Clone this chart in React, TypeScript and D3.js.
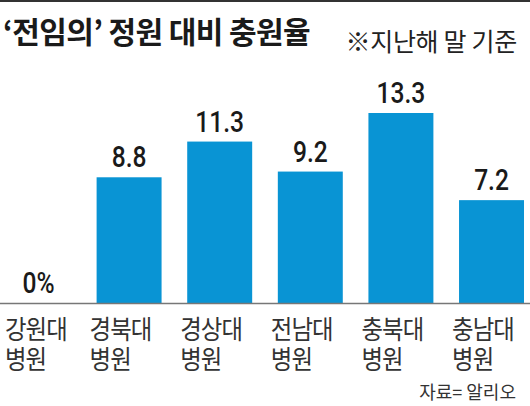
import * as d3 from "d3";
import { useEffect } from "react";

const hospitals = ["강원대", "경북대", "경상대", "전남대", "충북대", "충남대"];
const rates = [0, 8.8, 11.3, 9.2, 13.3, 7.2];
const valueLabels = ["0%", "8.8", "11.3", "9.2", "13.3", "7.2"];

const width = 530;
const height = 406;
const baseY = 303;

export default function App() {
    useEffect(() => {
        document.body.style.margin = "0";
    }, []);

    const xScale = d3.scaleBand<string>()
        .domain(hospitals)
        .range([6, 524])
        .paddingInner(0.283)
        .paddingOuter(0);

    const yScale = d3.scaleLinear()
        .domain([0, 13.3])
        .range([baseY, 113]);

    const krFont = "'Noto Sans CJK KR', sans-serif";
    const numFont = "Roboto, sans-serif";

    // category labels sit a little left of their bars
    const labelX = (h: string) => Math.max(5, (xScale(h) ?? 0) - 7);

    return (
        <svg width={width} height={height} style={{ display: "block", background: "#fff" }}>
            <rect x={0} y={0} width={width} height={2} fill="#333" />
            <text x={3} y={43} fontFamily={krFont} fontWeight={700} fontSize={30} fill="#1a1a1a"
                  letterSpacing={-0.6}>
                ‘전임의’ 정원 대비 충원율
            </text>
            <text x={517} y={51} textAnchor="end" fontFamily={krFont} fontSize={25} fill="#222"
                  letterSpacing={-0.3}>
                ※지난해 말 기준
            </text>

            {hospitals.map((h, i) => (
                <rect key={h}
                      x={xScale(h)}
                      y={yScale(rates[i])}
                      width={xScale.bandwidth()}
                      height={baseY - yScale(rates[i])}
                      fill="#0994d4" />
            ))}

            {hospitals.map((h, i) => (
                <text key={h + "-v"}
                      transform={`translate(${(xScale(h) ?? 0) + xScale.bandwidth() / 2},${yScale(rates[i]) - 10}) scale(0.82,1)`}
                      textAnchor="middle"
                      fontFamily={numFont}
                      fontWeight={500}
                      fontSize={30}
                      fill="#1a1a1a">
                    {valueLabels[i]}
                </text>
            ))}

            <line x1={0} x2={width} y1={baseY + 0.5} y2={baseY + 0.5} stroke="#777" strokeWidth={1.5} />

            {hospitals.map((h) => (
                <g key={h + "-l"} transform={`translate(${labelX(h)},0) scale(0.9,1)`}>
                    <text x={0} y={339} fontFamily={krFont} fontSize={26} letterSpacing={-1} fill="#333">
                        {h}
                    </text>
                    <text x={0} y={369} fontFamily={krFont} fontSize={26} letterSpacing={-1} fill="#333">
                        병원
                    </text>
                </g>
            ))}

            <text x={516} y={399} textAnchor="end" fontFamily={krFont} fontSize={18} fill="#333">
                자료= 알리오
            </text>
        </svg>
    );
}
